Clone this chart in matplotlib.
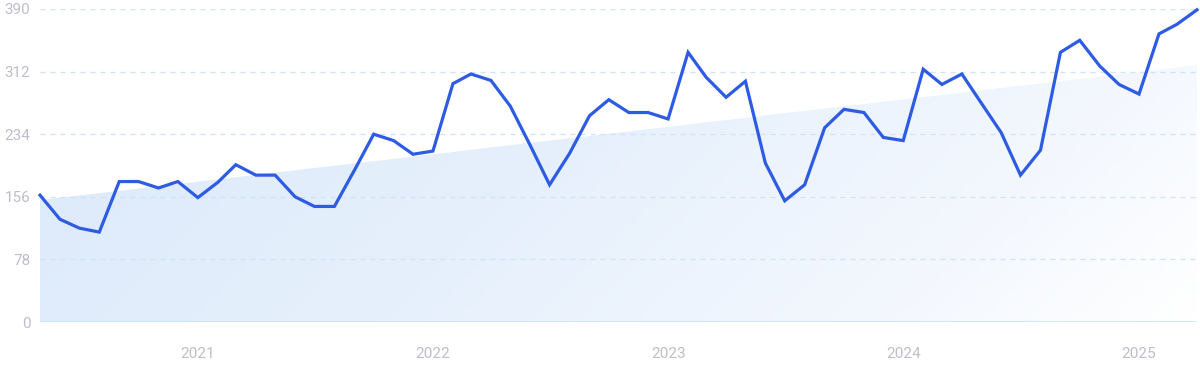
import matplotlib
matplotlib.use("Agg")
import matplotlib.pyplot as plt
import matplotlib.dates as mdates
import numpy as np
import pandas as pd
from matplotlib.colors import LinearSegmentedColormap

start_month = "2020-05-01"
values = [158, 128, 117, 112, 175, 175, 167, 175, 155, 174,
          196, 183, 183, 156, 144, 144, 189, 234, 226, 209,
          213, 297, 309, 301, 269, 220, 171, 210, 257, 277,
          261, 261, 253, 336, 305, 280, 300, 198, 151, 171,
          242, 265, 261, 230, 226, 315, 296, 309, 273, 236,
          183, 214, 336, 351, 319, 296, 284, 359, 371, 389]
trend_start, trend_end = 152, 320
y_ticks = [0, 78, 156, 234, 312, 390]
year_ticks = ["2021", "2022", "2023", "2024", "2025"]

plt.rcParams['font.family'] = ['Roboto', 'DejaVu Sans']

dates = pd.date_range(start_month, periods=len(values), freq="MS")
xn = mdates.date2num(dates)
trend = np.linspace(trend_start, trend_end, len(values))

fig = plt.figure(figsize=(12, 3.71), dpi=100)
ax = fig.add_axes([40/1200, 1-322/371, 1157/1200, 313/371])

# diagonal gradient fill under trend (dark top-left -> white bottom-right)
poly = ax.fill_between(xn, 0, trend, color="none", lw=0)
ny, nx = 100, 300
gx = np.linspace(0, 1, nx)[None, :]
gy = np.linspace(0, 1, ny)[:, None]   # row 0 = top
t = np.clip(0.78 * gx + 0.22 * gy, 0, 1)
cmap = LinearSegmentedColormap.from_list(
    "g", [(0, "#dbe9fb"), (0.45, "#e6f0fc"), (0.8, "#f4f8fe"), (1, "#ffffff")])
img = ax.imshow(t, cmap=cmap, aspect="auto", origin="upper",
                extent=[xn[0], xn[-1], 0, 390], zorder=1, vmin=0, vmax=1)
path = poly.get_paths()[0]
img.set_clip_path(path, transform=ax.transData)

# grid (drawn over fill)
for v in y_ticks[1:]:
    ax.axhline(v, color="#cfe3f7", lw=0.9, ls=(0, (4, 4)), zorder=2)
ax.axhline(0, color="#cbe3f9", lw=1.2, zorder=2)

ax.plot(xn, values, color="#2d5be3", lw=2.3, zorder=3, clip_on=False,
        solid_joinstyle="miter")

ax.set_xlim(xn[0], xn[-1])
ax.set_ylim(0, 390)
for s in ax.spines.values():
    s.set_visible(False)
ax.set_yticks(y_ticks)
ax.set_yticklabels([str(v) for v in y_ticks])
ax.set_xticks([mdates.date2num(pd.Timestamp(f"{y}-01-01")) for y in year_ticks])
ax.set_xticklabels(year_ticks)
ax.tick_params(axis="both", length=0, colors="#bdbecb", labelsize=11)
ax.tick_params(axis="y", pad=7)
ax.tick_params(axis="x", pad=18)

fig.savefig("out.png", dpi=100)
